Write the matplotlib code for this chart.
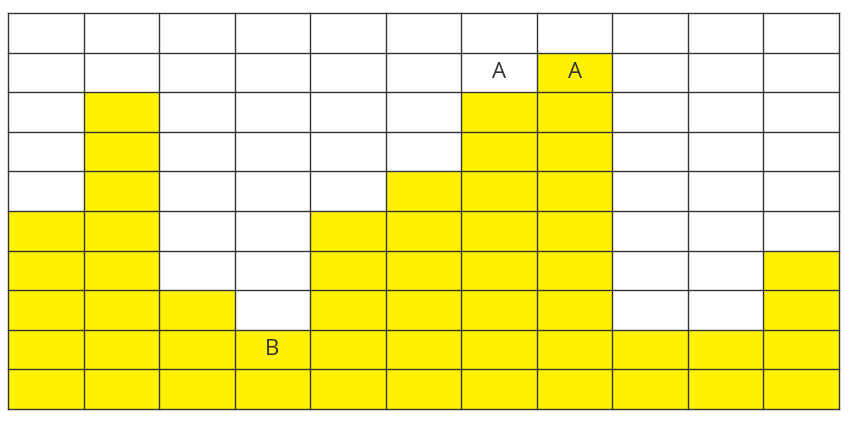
import matplotlib.pyplot as plt

# column heights of yellow cells (counted from bottom)
heights = [5, 8, 3, 2, 5, 6, 8, 9, 2, 2, 4]
n_rows = 10
# cell labels: (column, row from bottom, text)
label_cols = [6, 7, 3]
label_rows = [9, 9, 2]
label_texts = ["A", "A", "B"]

def main():
    n_cols = len(heights)
    fig = plt.figure(figsize=(8.54, 4.23), dpi=100)
    ax = fig.add_axes([8 / 854, 14 / 423, 831 / 854, 396 / 423])

    ax.bar(range(n_cols), heights, width=1.0, align="edge",
           color="#fff200", edgecolor="none")

    for i in range(n_cols + 1):
        ax.axvline(i, color="#333333", lw=1.0, clip_on=False)
    for j in range(n_rows + 1):
        ax.axhline(j, color="#333333", lw=1.0, clip_on=False)

    for c, r, t in zip(label_cols, label_rows, label_texts):
        ax.text(c + 0.5, r - 0.5, t, ha="center", va="center",
                fontsize=16, color="#333333", family="Open Sans")

    ax.set_xlim(0, n_cols)
    ax.set_ylim(0, n_rows)
    ax.axis("off")
    fig.savefig("out.png")

if __name__ == "__main__":
    main()
